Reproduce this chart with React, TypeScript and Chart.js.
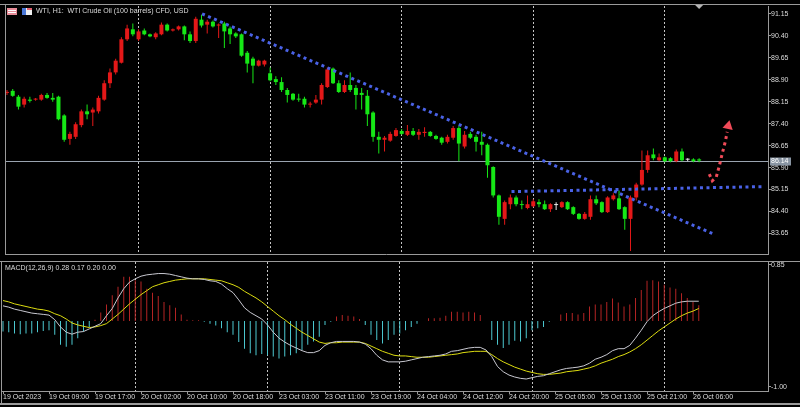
import React, { useEffect, useRef } from "react";
import { Chart, registerables } from "chart.js";
Chart.register(...registerables);

// ---------- data ----------
const xLabelBars = [0, 8, 16, 24, 32, 40, 48, 56, 64, 72, 80, 88, 96, 104, 112, 120];
const xLabels = [
  "19 Oct 2023", "19 Oct 09:00", "19 Oct 17:00", "20 Oct 02:00", "20 Oct 10:00", "20 Oct 18:00",
  "23 Oct 03:00", "23 Oct 11:00", "23 Oct 19:00", "24 Oct 04:00", "24 Oct 12:00", "24 Oct 20:00",
  "25 Oct 05:00", "25 Oct 13:00", "25 Oct 21:00", "26 Oct 06:00",
];
const daySeparatorBars = [23, 46, 69, 92, 115];
const priceTicks = [91.15, 90.4, 89.65, 88.9, 88.15, 87.4, 86.65, 85.9, 85.15, 84.4, 83.65];
const macdTicks = [0.85, -1.0];

const opens = [
  88.45, 88.52, 88.32, 88.05, 88.22, 88.22, 88.22, 88.38, 88.28, 88.32,
  87.68, 86.88, 86.95, 87.35, 87.82, 87.78, 87.82, 88.22, 88.78, 89.15,
  89.48, 90.28, 90.62, 90.28, 90.58, 90.45, 90.35, 90.45, 90.78, 90.58,
  90.62, 90.72, 90.45, 90.22, 90.95, 90.78, 90.88, 90.75, 90.82, 90.65,
  90.48, 90.45, 89.82, 89.62, 89.38, 89.42, 89.12, 88.92, 88.82, 88.55,
  88.42, 88.25, 88.25, 88.05, 88.12, 88.22, 88.65, 89.28, 88.78, 88.48,
  88.72, 88.62, 88.45, 88.35, 87.78, 86.95, 86.85, 86.82, 86.98, 87.15,
  87.02, 87.15, 87.02, 87.08, 87.12, 86.98, 86.92, 86.78, 86.92, 87.25,
  86.62, 87.05, 86.95, 86.78, 86.68, 85.92, 84.95, 84.15, 84.65, 84.88,
  84.65, 84.52, 84.58, 84.72, 84.65, 84.48, 84.62, 84.55, 84.72, 84.55,
  84.32, 84.15, 84.22, 84.82, 84.72, 84.38, 84.82, 84.85, 84.55, 84.15,
  84.88, 85.32, 85.82, 86.35, 86.15, 86.25, 86.22, 86.12, 86.45, 86.17,
  86.18, 86.18,
];
const highs = [
  88.55, 88.58, 88.38, 88.32, 88.32, 88.28, 88.42, 88.45, 88.45, 88.35,
  87.72, 87.12, 87.45, 87.88, 88.05, 87.95, 88.35, 88.88, 89.28, 89.62,
  90.35, 90.78, 90.82, 90.62, 90.65, 90.48, 90.52, 90.85, 90.82, 90.65,
  90.75, 90.75, 90.55, 91.05, 91.12, 90.95, 90.92, 90.82, 90.88, 90.72,
  90.52, 90.48, 89.88, 89.68, 89.58, 89.58, 89.32, 89.02, 88.98, 88.62,
  88.45, 88.42, 88.32, 88.15, 88.38, 88.78, 89.32, 89.32, 88.88, 88.88,
  89.15, 88.72, 88.62, 88.55, 87.82, 87.12, 86.98, 87.12, 87.25, 87.22,
  87.35, 87.25, 87.22, 87.28, 87.15, 87.02, 86.95, 87.02, 87.32, 87.32,
  87.15, 87.12, 87.02, 87.12, 86.72, 85.95, 84.98, 84.78, 84.98, 84.95,
  84.78, 84.95, 84.82, 84.82, 84.78, 84.68, 84.72, 84.75, 84.75, 84.58,
  84.35, 84.38, 84.95, 84.95, 84.75, 84.92, 85.02, 85.12, 84.58, 84.95,
  85.38, 86.48, 86.48, 86.55, 86.38, 86.28, 86.25, 86.52, 86.55, 86.22,
  86.22, 86.22,
];
const lows = [
  88.38, 88.32, 87.88, 87.95, 88.12, 88.18, 88.18, 88.25, 88.15, 87.52,
  86.78, 86.68, 86.88, 87.28, 87.55, 87.32, 87.75, 88.18, 88.62, 89.08,
  89.45, 90.22, 90.38, 90.22, 90.42, 90.35, 90.28, 90.42, 90.55, 90.55,
  90.58, 90.25, 90.15, 90.15, 90.68, 90.48, 90.68, 90.32, 89.98, 90.12,
  90.32, 89.68, 89.15, 88.78, 89.35, 89.35, 88.85, 88.72, 88.48, 88.12,
  88.18, 88.15, 87.95, 87.95, 88.08, 88.05, 88.62, 88.75, 88.45, 88.45,
  88.48, 87.88, 87.88, 87.32, 86.78, 86.38, 86.45, 86.78, 86.95, 87.02,
  86.98, 86.98, 86.85, 86.95, 86.95, 86.85, 86.68, 86.72, 86.85, 86.12,
  86.55, 86.88, 86.45, 86.32, 85.55, 84.88, 83.95, 83.95, 84.48, 84.58,
  84.48, 84.48, 84.55, 84.55, 84.45, 84.38, 84.45, 84.52, 84.45, 84.28,
  84.12, 84.12, 84.12, 84.62, 84.35, 84.35, 84.78, 84.45, 83.78, 83.05,
  84.78, 85.28, 85.72, 86.15, 86.12, 86.08, 86.08, 86.08, 86.12, 86.12,
  86.08, 86.08,
];
const closes = [
  88.48, 88.35, 87.98, 88.25, 88.18, 88.25, 88.38, 88.28, 88.22, 87.55,
  86.85, 87.05, 87.38, 87.82, 87.72, 87.88, 88.28, 88.78, 89.15, 89.55,
  90.28, 90.65, 90.45, 90.55, 90.45, 90.38, 90.48, 90.78, 90.58, 90.62,
  90.72, 90.45, 90.22, 90.98, 90.75, 90.88, 90.72, 90.78, 90.55, 90.45,
  90.38, 89.72, 89.45, 89.38, 89.55, 89.55, 88.88, 88.82, 88.55, 88.38,
  88.22, 88.22, 88.05, 88.08, 88.22, 88.72, 89.25, 88.78, 88.48, 88.72,
  88.55, 88.38, 88.38, 87.72, 86.95, 86.85, 86.92, 87.05, 87.18, 87.05,
  87.15, 87.02, 87.12, 87.12, 86.98, 86.88, 86.75, 86.95, 87.25, 86.72,
  87.02, 86.92, 86.78, 86.68, 85.98, 84.95, 84.22, 84.72, 84.88, 84.65,
  84.62, 84.65, 84.75, 84.65, 84.48, 84.65, 84.62, 84.72, 84.48, 84.32,
  84.15, 84.32, 84.82, 84.68, 84.38, 84.88, 84.95, 84.48, 84.15, 84.88,
  85.32, 85.82, 86.32, 86.22, 86.25, 86.12, 86.12, 86.45, 86.15, 86.17,
  86.12, 86.14,
];

const histogram = [
  -0.16, -0.17, -0.19, -0.2, -0.19, -0.19, -0.17, -0.15, -0.14, -0.21,
  -0.36, -0.39, -0.36, -0.26, -0.16, -0.09, 0.02, 0.13, 0.25, 0.39,
  0.52, 0.67, 0.67, 0.62, 0.6, 0.49, 0.43, 0.38, 0.29, 0.24,
  0.2, 0.1, 0.02, 0.01, 0.01, -0.01, -0.04, -0.07, -0.11, -0.17,
  -0.21, -0.32, -0.42, -0.49, -0.52, -0.5, -0.52, -0.54, -0.57, -0.54,
  -0.52, -0.49, -0.44, -0.36, -0.31, -0.24, -0.06, -0.01, 0.07, 0.09,
  0.08, 0.07, 0.03, -0.06, -0.21, -0.29, -0.34, -0.29, -0.21, -0.19,
  -0.14, -0.09, -0.04, 0.0, 0.04, 0.04, 0.05, 0.08, 0.14, 0.14,
  0.13, 0.14, 0.13, 0.09, 0.0, -0.29, -0.36, -0.41, -0.36, -0.3,
  -0.31, -0.26, -0.14, -0.11, -0.09, -0.01, 0.0, 0.1, 0.12, 0.12,
  0.1, 0.12, 0.22, 0.25, 0.25, 0.29, 0.34, 0.28, 0.22, 0.25,
  0.35, 0.47, 0.61, 0.62, 0.6, 0.55, 0.51, 0.49, 0.42, 0.35,
  0.29, 0.24,
];
const macdLine = [
  0.23, 0.21, 0.18, 0.16, 0.14, 0.12, 0.11, 0.1, 0.09, 0.02,
  -0.09, -0.17, -0.2, -0.17, -0.16, -0.12, -0.08, -0.04, 0.08, 0.19,
  0.35, 0.49, 0.59, 0.64, 0.68, 0.7, 0.71, 0.72, 0.72, 0.71,
  0.69, 0.67, 0.65, 0.64, 0.64, 0.63, 0.61, 0.6, 0.56, 0.49,
  0.43, 0.32, 0.2, 0.13, 0.08, 0.03, -0.06, -0.17, -0.26, -0.32,
  -0.37, -0.41, -0.45, -0.48, -0.48, -0.45, -0.37, -0.33, -0.31, -0.31,
  -0.31, -0.31, -0.32, -0.35, -0.42, -0.52, -0.59, -0.62, -0.62, -0.62,
  -0.61, -0.59, -0.57, -0.55, -0.54, -0.53, -0.52, -0.5, -0.46, -0.45,
  -0.43, -0.41, -0.4, -0.4, -0.44, -0.54, -0.69, -0.77, -0.82, -0.85,
  -0.87, -0.88, -0.86, -0.84, -0.83, -0.8, -0.77, -0.74, -0.72, -0.71,
  -0.7, -0.68, -0.64, -0.58, -0.55, -0.51, -0.45, -0.42, -0.42, -0.37,
  -0.26, -0.14, -0.01, 0.08, 0.14, 0.19, 0.23, 0.27, 0.29, 0.3,
  0.3, 0.3,
];
const signalLine = [
  0.31, 0.29, 0.26, 0.24, 0.22, 0.2, 0.18, 0.17, 0.15, 0.11,
  0.08, 0.03, -0.03, -0.06, -0.08, -0.1, -0.09, -0.07, -0.04, 0.03,
  0.1, 0.18, 0.26, 0.33, 0.4, 0.46, 0.52, 0.55, 0.58, 0.6,
  0.62, 0.63, 0.64, 0.64, 0.64, 0.64, 0.63, 0.62, 0.61, 0.58,
  0.55, 0.51, 0.45, 0.4, 0.35, 0.29, 0.22, 0.15, 0.08, 0.02,
  -0.05, -0.11, -0.17, -0.22, -0.27, -0.32, -0.34, -0.33, -0.33, -0.32,
  -0.32, -0.32, -0.32, -0.34, -0.38, -0.42, -0.46, -0.49, -0.52, -0.53,
  -0.53, -0.54, -0.55, -0.55, -0.55, -0.54, -0.53, -0.52, -0.51, -0.5,
  -0.48, -0.47, -0.46, -0.46, -0.46, -0.51, -0.57, -0.62, -0.66, -0.7,
  -0.73, -0.76, -0.78, -0.8, -0.81, -0.81, -0.8, -0.79, -0.77, -0.76,
  -0.75, -0.73, -0.71, -0.68, -0.64, -0.61, -0.58, -0.54, -0.51, -0.47,
  -0.42, -0.36, -0.29, -0.22, -0.15, -0.09, -0.03, 0.03, 0.08, 0.12,
  0.15, 0.19,
];

// trend lines and arrow (bar index, price)
const trendAx = [34.1, 123.3];
const trendAy = [91.15, 83.65];
const trendBx = [88.2, 132.0];
const trendBy = [85.08, 85.25];
const arrowX = [122.78, 123.3, 124.0, 124.52, 125.04, 125.57, 125.91];
const arrowY = [85.68, 85.45, 85.58, 85.95, 86.38, 86.78, 87.12];
const arrowHeadX = [126.09];
const arrowHeadY = [87.32];

const titleText = "WTI, H1:  WTI Crude Oil (100 barrels) CFD, USD";
const macdTitle = "MACD(12,26,9) 0.28 0.17 0.20 0.00";

// ---------- styles ----------
const FONT = "Liberation Sans";
const TEXT = "#dcdcdc";
const FRAME = "#9a9a9a";
const GRID = "#c4c4c4";
const UP = "#e41818";
const DOWN = "#16e816";
const DOJI = "#e8e8e8";
const BLUE = "#4a62e6";
const ARROW = "#f04a58";
const BID = "#9aa4b0";
const HIST_NEG = "#4cc8d0";
const HIST_POS = "#b42424";
const MACD_COL = "#c8c8d0";
const SIG_COL = "#dcdc10";
const X_MIN = -0.174;
const X_MAX = 133.04;

const candleColor = (i: number) =>
  closes[i] > opens[i] ? UP : closes[i] < opens[i] ? DOWN : DOJI;

const pts = (xs: number[], ys: number[]) => xs.map((x, i) => ({ x, y: ys[i] }));

const tickFont = { family: FONT, size: 7, lineHeight: 1 };

const mainDecor = {
  id: "mainDecor",
  beforeDatasetsDraw(chart: any) {
    const { ctx, chartArea: a, scales } = chart;
    const y = Math.round(scales.y.getPixelForValue(closes[closes.length - 1])) + 0.5;
    ctx.save();
    ctx.strokeStyle = BID;
    ctx.lineWidth = 1;
    ctx.beginPath();
    ctx.moveTo(a.left, y);
    ctx.lineTo(a.right, y);
    ctx.stroke();
    ctx.restore();
  },
  afterDraw(chart: any) {
    const { ctx, chartArea: a, scales } = chart;
    ctx.save();
    // frame
    ctx.strokeStyle = FRAME;
    ctx.lineWidth = 1;
    ctx.beginPath();
    ctx.moveTo(0, a.top - 1.5);
    ctx.lineTo(chart.width, a.top - 1.5);
    ctx.moveTo(a.left - 0.5, a.top - 2);
    ctx.lineTo(a.left - 0.5, a.bottom + 1);
    ctx.moveTo(a.left - 1, a.bottom + 0.5);
    ctx.lineTo(a.right, a.bottom + 0.5);
    ctx.stroke();
    // header icons
    ctx.fillStyle = "#e88c98";
    ctx.fillRect(7, 8, 10, 7);
    ctx.fillStyle = "#ffffff";
    ctx.fillRect(8, 10, 8, 1);
    ctx.fillRect(8, 12, 8, 1);
    ctx.fillStyle = "#f0f0f0";
    ctx.fillRect(22, 8, 10, 7);
    ctx.fillStyle = "#4a78d8";
    ctx.fillRect(22, 8, 4, 7);
    ctx.fillStyle = "#e06070";
    ctx.fillRect(27, 8, 5, 2);
    // header text
    ctx.fillStyle = TEXT;
    ctx.font = `7px "${FONT}"`;
    ctx.textBaseline = "middle";
    ctx.textAlign = "left";
    ctx.fillText(titleText, 36, 11);
    // bid price box
    const last = closes[closes.length - 1];
    const by = Math.round(scales.y.getPixelForValue(last));
    ctx.fillStyle = "#8995a3";
    ctx.fillRect(a.right + 2, by - 3.5, 21, 8);
    ctx.fillStyle = "#ffffff";
    ctx.fillText(last.toFixed(2), a.right + 3, by + 0.5);
    // shift marker
    const sx = scales.x.getPixelForValue(closes.length - 1);
    ctx.fillStyle = "#b4b4b4";
    ctx.beginPath();
    ctx.moveTo(sx - 4, a.top - 1);
    ctx.lineTo(sx + 4, a.top - 1);
    ctx.lineTo(sx, a.top + 3);
    ctx.closePath();
    ctx.fill();
    ctx.restore();
  },
};

const macdDecor = {
  id: "macdDecor",
  afterDraw(chart: any) {
    const { ctx, chartArea: a } = chart;
    ctx.save();
    ctx.strokeStyle = FRAME;
    ctx.lineWidth = 1;
    ctx.beginPath();
    ctx.moveTo(0, a.top - 0.5);
    ctx.lineTo(chart.width, a.top - 0.5);
    ctx.moveTo(a.left - 0.5, a.top - 1);
    ctx.lineTo(a.left - 0.5, a.bottom + 12);
    ctx.stroke();
    ctx.fillStyle = FRAME;
    ctx.fillRect(0, chart.height - 4, chart.width, 2);
    ctx.fillStyle = TEXT;
    ctx.font = `7px "${FONT}"`;
    ctx.textBaseline = "middle";
    ctx.textAlign = "left";
    ctx.fillText(macdTitle, 5, a.top + 6);
    ctx.restore();
  },
};

const zeroPad = (s: any) => {
  s.paddingTop = 0;
  s.paddingBottom = 0;
  s.paddingLeft = 0;
  s.paddingRight = 0;
};

function mainConfig(): any {
  const n = closes.length;
  const idx = Array.from({ length: n }, (_, i) => i);
  return {
    type: "bar",
    data: {
      datasets: [
        {
          type: "line",
          data: pts(trendAx, trendAy),
          borderColor: BLUE,
          borderWidth: 3,
          borderDash: [3, 3.5],
          pointRadius: 0,
          order: 0,
        },
        {
          type: "line",
          data: pts(trendBx, trendBy),
          borderColor: BLUE,
          borderWidth: 3,
          borderDash: [3, 3.5],
          pointRadius: 0,
          order: 0,
        },
        {
          type: "line",
          data: pts(arrowX, arrowY),
          borderColor: ARROW,
          borderWidth: 3,
          borderDash: [3, 3.5],
          pointRadius: 0,
          order: 0,
        },
        {
          type: "line",
          data: pts(arrowHeadX, arrowHeadY),
          showLine: false,
          pointStyle: "triangle",
          pointRadius: 6,
          pointRotation: 12,
          pointBackgroundColor: ARROW,
          pointBorderWidth: 0,
          order: 0,
        },
        {
          type: "bar",
          data: idx.map((i) => ({ x: i, y: [opens[i], closes[i]] })),
          backgroundColor: idx.map(candleColor),
          barThickness: 4,
          minBarLength: 1,
          grouped: false,
          inflateAmount: 0,
          borderWidth: 0,
          order: 2,
        },
        {
          type: "bar",
          data: idx.map((i) => ({ x: i, y: [lows[i], highs[i]] })),
          backgroundColor: idx.map(candleColor),
          barThickness: 1,
          grouped: false,
          inflateAmount: 0,
          borderWidth: 0,
          order: 3,
        },
      ],
    },
    options: {
      responsive: false,
      animation: false,
      devicePixelRatio: 1,
      events: [],
      layout: { padding: { left: 2, top: 4, right: 0, bottom: 2 } },
      plugins: { legend: { display: false }, tooltip: { enabled: false } },
      scales: {
        x: {
          type: "linear",
          min: X_MIN,
          max: X_MAX,
          offset: false,
          afterBuildTicks: (s: any) => {
            s.ticks = daySeparatorBars.map((v) => ({ value: v }));
          },
          afterFit: (s: any) => {
            s.height = 0;
            zeroPad(s);
          },
          ticks: { display: false },
          grid: { display: true, offset: false, drawOnChartArea: true, drawTicks: false, color: GRID, lineWidth: 1 },
          border: { display: false, dash: [2, 2] },
        },
        y: {
          type: "linear",
          position: "right",
          min: 82.95,
          max: 91.4167,
          afterBuildTicks: (s: any) => {
            s.ticks = priceTicks.map((v) => ({ value: v }));
          },
          afterFit: (s: any) => {
            s.width = 32;
            zeroPad(s);
          },
          ticks: {
            color: TEXT,
            font: tickFont,
            padding: 0,
            autoSkip: false,
            callback: (v: any) => Number(v).toFixed(2),
          },
          grid: { drawOnChartArea: false, drawTicks: true, tickLength: 3, tickColor: FRAME },
          border: { display: true, color: FRAME },
        },
      },
    },
    plugins: [mainDecor],
  };
}

function macdConfig(): any {
  const n = histogram.length;
  const idx = Array.from({ length: n }, (_, i) => i);
  return {
    type: "bar",
    data: {
      datasets: [
        {
          type: "line",
          data: idx.map((i) => ({ x: i, y: macdLine[i] })),
          borderColor: MACD_COL,
          borderWidth: 1,
          pointRadius: 0,
          tension: 0,
          xAxisID: "x",
          order: 0,
        },
        {
          type: "line",
          data: idx.map((i) => ({ x: i, y: signalLine[i] })),
          borderColor: SIG_COL,
          borderWidth: 1,
          pointRadius: 0,
          tension: 0,
          xAxisID: "x",
          order: 1,
        },
        {
          type: "bar",
          data: idx.map((i) => ({ x: i, y: histogram[i] })),
          backgroundColor: idx.map((i) => (histogram[i] >= 0 ? HIST_POS : HIST_NEG)),
          barThickness: 1,
          grouped: false,
          inflateAmount: 0,
          borderWidth: 0,
          xAxisID: "x",
          order: 3,
        },
      ],
    },
    options: {
      responsive: false,
      animation: false,
      devicePixelRatio: 1,
      events: [],
      layout: { padding: { left: 2, top: 2, right: 0, bottom: 0 } },
      plugins: { legend: { display: false }, tooltip: { enabled: false } },
      scales: {
        x: {
          type: "linear",
          position: "bottom",
          min: X_MIN,
          max: X_MAX,
          offset: false,
          afterBuildTicks: (s: any) => {
            s.ticks = xLabelBars.map((v) => ({ value: v }));
          },
          afterFit: (s: any) => {
            s.height = 16;
            zeroPad(s);
          },
          ticks: {
            display: true,
            autoSkip: false,
            maxRotation: 0,
            minRotation: 0,
            align: "start",
            padding: 0,
            color: TEXT,
            font: tickFont,
            callback: (_v: any, i: number) => xLabels[i],
          },
          grid: { offset: false, drawOnChartArea: false, drawTicks: true, tickLength: 3, tickColor: FRAME },
          border: { display: true, color: FRAME },
        },
        xg: {
          type: "linear",
          position: "bottom",
          min: X_MIN,
          max: X_MAX,
          offset: false,
          afterBuildTicks: (s: any) => {
            s.ticks = daySeparatorBars.map((v) => ({ value: v }));
          },
          afterFit: (s: any) => {
            s.height = 0;
            zeroPad(s);
          },
          ticks: { display: false },
          grid: { offset: false, drawOnChartArea: true, drawTicks: false, color: GRID, lineWidth: 1 },
          border: { display: false, dash: [2, 2] },
        },
        y: {
          type: "linear",
          position: "right",
          min: -1.062,
          max: 0.895,
          afterBuildTicks: (s: any) => {
            s.ticks = macdTicks.map((v) => ({ value: v }));
          },
          afterFit: (s: any) => {
            s.width = 32;
            zeroPad(s);
          },
          ticks: {
            color: TEXT,
            font: tickFont,
            padding: 0,
            autoSkip: false,
            callback: (v: any) => Number(v).toFixed(2),
          },
          grid: { drawOnChartArea: false, drawTicks: true, tickLength: 3, tickColor: FRAME },
          border: { display: true, color: FRAME },
        },
      },
    },
    plugins: [macdDecor],
  };
}

export default function App() {
  const mainRef = useRef<HTMLCanvasElement>(null);
  const macdRef = useRef<HTMLCanvasElement>(null);
  useEffect(() => {
    document.body.style.margin = "0";
    document.body.style.background = "#000";
    Chart.defaults.font.family = FONT;
    const main = new Chart(mainRef.current as HTMLCanvasElement, mainConfig());
    const macd = new Chart(macdRef.current as HTMLCanvasElement, macdConfig());
    return () => {
      main.destroy();
      macd.destroy();
    };
  }, []);
  return (
    <div
      style={{
        position: "fixed",
        left: 0,
        top: 0,
        width: 800,
        height: 407,
        background: "#000",
        overflow: "hidden",
      }}
    >
      <canvas
        ref={mainRef}
        width={800}
        height={260}
        style={{ position: "absolute", left: 0, top: 0, width: 800, height: 260 }}
      />
      <canvas
        ref={macdRef}
        width={800}
        height={147}
        style={{ position: "absolute", left: 0, top: 260, width: 800, height: 147 }}
      />
    </div>
  );
}
